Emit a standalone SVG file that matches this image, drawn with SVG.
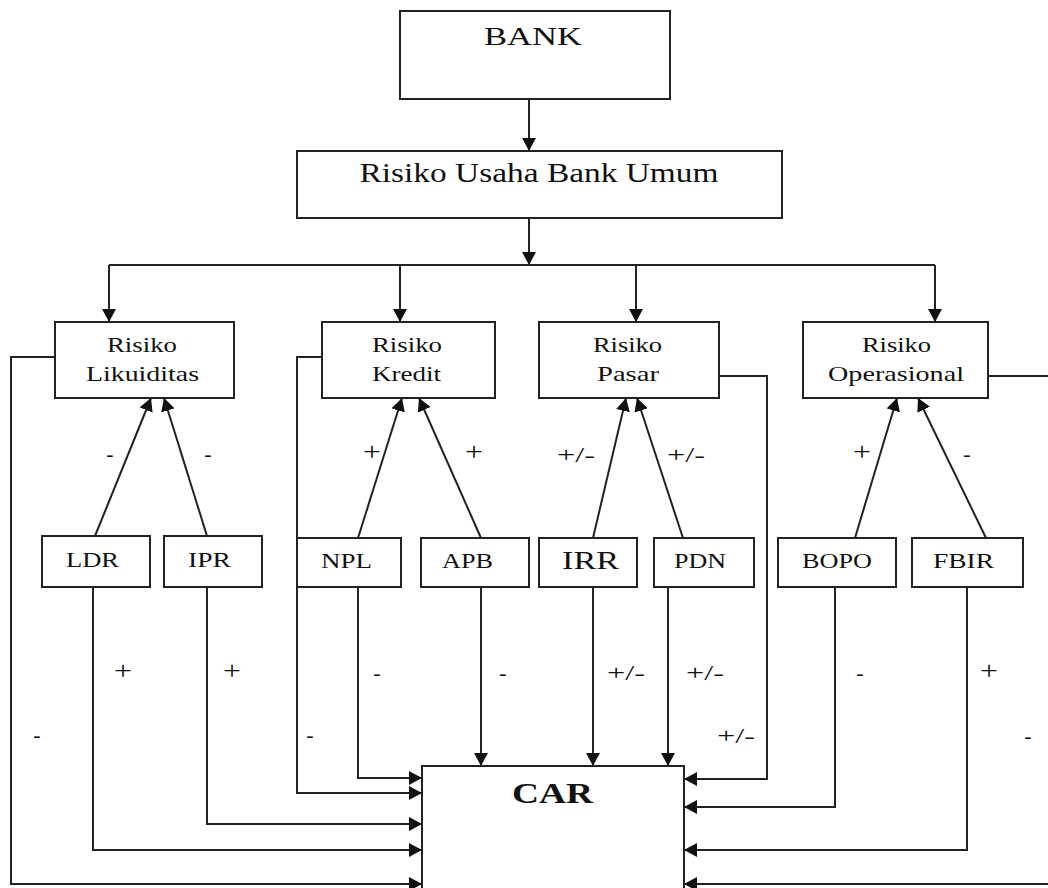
<svg xmlns="http://www.w3.org/2000/svg" width="1048" height="888" viewBox="0 0 1048 888">
<defs>
<marker id="ah" markerUnits="userSpaceOnUse" markerWidth="14" markerHeight="14" refX="13" refY="7" orient="auto" viewBox="0 0 14 14">
<path d="M0,0 L13,7 L0,14 z" fill="#111"/>
</marker>
<style>
.box{fill:#fff;stroke:#222;stroke-width:2}
.c{fill:none;stroke:#222;stroke-width:2}
.a{fill:none;stroke:#222;stroke-width:2;marker-end:url(#ah)}
text{font-family:"Liberation Serif","Times New Roman",serif;fill:#111;text-anchor:middle}
.t2{font-size:21px}
.t3{font-size:20px}
.lb{font-size:22px}
.p{font-size:25px}
</style>
</defs>
<rect width="1048" height="888" fill="#fff"/>

<g id="connectors">
<path class="a" d="M529,99 V151"/>
<path class="a" d="M529,218 V265"/>
<path class="c" d="M109,265 H935"/>
<path class="a" d="M109,265 V322"/>
<path class="a" d="M400,265 V322"/>
<path class="a" d="M636,265 V322"/>
<path class="a" d="M935,265 V322"/>

<path class="a" d="M95,536 L151,398"/>
<path class="a" d="M207,536 L164,398"/>
<path class="a" d="M358,538 L402,398"/>
<path class="a" d="M481,538 L419,398"/>
<path class="a" d="M593,538 L626,398"/>
<path class="a" d="M683,538 L637,398"/>
<path class="a" d="M855,538 L897,398"/>
<path class="a" d="M986,538 L918,398"/>

<path class="a" d="M358,587 V778 H422"/>
<path class="a" d="M322,357 H297 V793 H422"/>
<path class="a" d="M207,587 V824 H422"/>
<path class="a" d="M93,587 V850 H422"/>
<path class="a" d="M55,357 H11 V884 H422"/>
<path class="a" d="M481,587 V766"/>
<path class="a" d="M593,587 V766"/>
<path class="a" d="M668,587 V766"/>

<path class="a" d="M719,376 H767 V779 H684"/>
<path class="a" d="M835,587 V807 H684"/>
<path class="a" d="M967,587 V850 H684"/>
<path class="a" d="M988,376 H1054 V884 H684"/>
</g>

<g id="node-bank">
<rect class="box" x="400" y="11" width="270" height="88"/>
<text x="533" y="45" font-size="26" textLength="98" lengthAdjust="spacingAndGlyphs">BANK</text>
</g>
<g id="node-risiko-usaha">
<rect class="box" x="297" y="151" width="485" height="67"/>
<text x="539" y="182" font-size="27" textLength="359" lengthAdjust="spacingAndGlyphs">Risiko Usaha Bank Umum</text>
</g>

<g id="node-likuiditas">
<rect class="box" x="55" y="322" width="179" height="76"/>
<text class="t2" x="142" y="352" textLength="70" lengthAdjust="spacingAndGlyphs">Risiko</text>
<text class="t2" x="142.5" y="381" textLength="113" lengthAdjust="spacingAndGlyphs">Likuiditas</text>
</g>
<g id="node-kredit">
<rect class="box" x="322" y="322" width="173" height="76"/>
<text class="t2" x="407" y="352" textLength="70" lengthAdjust="spacingAndGlyphs">Risiko</text>
<text class="t2" x="406.5" y="381" textLength="69" lengthAdjust="spacingAndGlyphs">Kredit</text>
</g>
<g id="node-pasar">
<rect class="box" x="539" y="322" width="180" height="76"/>
<text class="t2" x="627.5" y="352" textLength="69" lengthAdjust="spacingAndGlyphs">Risiko</text>
<text class="t2" x="628" y="381" textLength="62" lengthAdjust="spacingAndGlyphs">Pasar</text>
</g>
<g id="node-operasional">
<rect class="box" x="803" y="322" width="185" height="76"/>
<text class="t2" x="896.5" y="352" textLength="69" lengthAdjust="spacingAndGlyphs">Risiko</text>
<text class="t2" x="896" y="381" textLength="136" lengthAdjust="spacingAndGlyphs">Operasional</text>
</g>

<g id="node-ldr">
<rect class="box" x="42" y="536" width="108" height="51"/>
<text class="t3" x="92.5" y="567" textLength="53" lengthAdjust="spacingAndGlyphs">LDR</text>
</g>
<g id="node-ipr">
<rect class="box" x="164" y="536" width="98" height="51"/>
<text class="t3" x="209.5" y="567" textLength="43" lengthAdjust="spacingAndGlyphs">IPR</text>
</g>
<g id="node-npl">
<rect class="box" x="297" y="538" width="104" height="49"/>
<text class="t3" x="346.5" y="568" textLength="51" lengthAdjust="spacingAndGlyphs">NPL</text>
</g>
<g id="node-apb">
<rect class="box" x="421" y="538" width="108" height="49"/>
<text class="t3" x="467.5" y="568" textLength="51" lengthAdjust="spacingAndGlyphs">APB</text>
</g>
<g id="node-irr">
<rect class="box" x="539" y="538" width="98" height="49"/>
<text x="590.5" y="569" font-size="25" textLength="57" lengthAdjust="spacingAndGlyphs">IRR</text>
</g>
<g id="node-pdn">
<rect class="box" x="654" y="538" width="100" height="49"/>
<text class="t3" x="700" y="568" textLength="52" lengthAdjust="spacingAndGlyphs">PDN</text>
</g>
<g id="node-bopo">
<rect class="box" x="778" y="538" width="118" height="49"/>
<text class="t3" x="837" y="568" textLength="70" lengthAdjust="spacingAndGlyphs">BOPO</text>
</g>
<g id="node-fbir">
<rect class="box" x="912" y="538" width="111" height="49"/>
<text class="t3" x="963.5" y="568" textLength="61" lengthAdjust="spacingAndGlyphs">FBIR</text>
</g>

<g id="node-car">
<rect class="box" x="422" y="766" width="262" height="140"/>
<text x="552.5" y="803" font-size="29" font-weight="bold" textLength="81" lengthAdjust="spacingAndGlyphs">CAR</text>
</g>

<g id="labels" class="lb">
<text x="110" y="461">-</text>
<text x="208" y="461">-</text>
<text class="p" x="372" y="460" textLength="18" lengthAdjust="spacingAndGlyphs">+</text>
<text class="p" x="474" y="460" textLength="18" lengthAdjust="spacingAndGlyphs">+</text>
<text x="576" y="462" textLength="38" lengthAdjust="spacingAndGlyphs">+/-</text>
<text x="686" y="462" textLength="38" lengthAdjust="spacingAndGlyphs">+/-</text>
<text class="p" x="862" y="460" textLength="18" lengthAdjust="spacingAndGlyphs">+</text>
<text x="967" y="461">-</text>

<text class="p" x="123" y="679" textLength="18" lengthAdjust="spacingAndGlyphs">+</text>
<text class="p" x="232" y="679" textLength="18" lengthAdjust="spacingAndGlyphs">+</text>
<text x="37" y="742">-</text>
<text x="310" y="742">-</text>
<text x="377" y="680">-</text>
<text x="503" y="680">-</text>
<text x="626" y="680" textLength="38" lengthAdjust="spacingAndGlyphs">+/-</text>
<text x="705" y="680" textLength="38" lengthAdjust="spacingAndGlyphs">+/-</text>
<text x="736" y="743" textLength="38" lengthAdjust="spacingAndGlyphs">+/-</text>
<text x="860" y="680">-</text>
<text class="p" x="989" y="679" textLength="18" lengthAdjust="spacingAndGlyphs">+</text>
<text x="1028" y="743">-</text>
</g>
</svg>
